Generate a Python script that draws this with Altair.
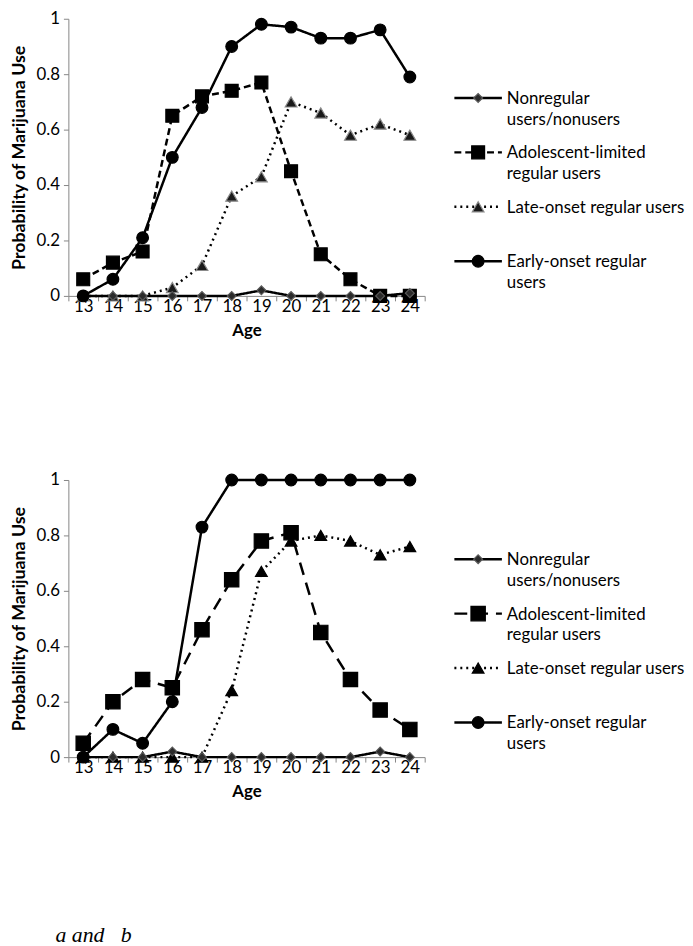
import altair as alt
import pandas as pd

ages = list(range(13, 25))
series_names = ["Nonregular users/nonusers", "Adolescent-limited regular users",
                "Late-onset regular users", "Early-onset regular users"]
legend_texts = ["Nonregular\nusers/nonusers", "Adolescent-limited\nregular users",
                "Late-onset regular users", "Early-onset regular\nusers"]

# Panel a
a_nonregular = [0, 0, 0, 0, 0, 0, 0.02, 0, 0, 0, 0, 0.01]
a_adolescent = [0.06, 0.12, 0.16, 0.65, 0.72, 0.74, 0.77, 0.45, 0.15, 0.06, 0.0, 0.0]
a_late = [0, 0, 0, 0.03, 0.11, 0.36, 0.43, 0.70, 0.66, 0.58, 0.62, 0.58]
a_early = [0, 0.06, 0.21, 0.50, 0.68, 0.90, 0.98, 0.97, 0.93, 0.93, 0.96, 0.79]

# Panel b
b_nonregular = [0, 0, 0, 0.02, 0, 0, 0, 0, 0, 0, 0.02, 0]
b_adolescent = [0.05, 0.20, 0.28, 0.25, 0.46, 0.64, 0.78, 0.81, 0.45, 0.28, 0.17, 0.10]
b_late = [0, 0, 0, 0, 0, 0.24, 0.67, 0.78, 0.80, 0.78, 0.73, 0.76]
b_early = [0, 0.10, 0.05, 0.20, 0.83, 1, 1, 1, 1, 1, 1, 1]

FONT = "Lato"


def make_df(vals):
    rows = []
    for name, v in zip(series_names, vals):
        for age, p in zip(ages, v):
            rows.append({"series": name, "age": age, "p": p})
    return pd.DataFrame(rows)


def styles(panel):
    dash_adol = [7, 4] if panel == "a" else [13, 8]
    tri_fill = "#1a1a1a" if panel == "a" else "black"
    tri_stroke = "#8a8a8a" if panel == "a" else "black"
    return {
        series_names[0]: dict(dash=[1, 0], shape="diamond", size=80, fill="#2b2b2b", stroke="#5a5a5a"),
        series_names[1]: dict(dash=dash_adol, shape="square", size=170 if panel == "a" else 210, fill="black", stroke="black"),
        series_names[2]: dict(dash=[2, 4], shape="triangle-up", size=140, fill=tri_fill, stroke=tri_stroke),
        series_names[3]: dict(dash=[1, 0], shape="circle", size=140, fill="black", stroke="black"),
    }


def panel(vals, panel_id):
    df = make_df(vals)
    st = styles(panel_id)
    x = alt.X("age:O", scale=alt.Scale(type="band", paddingInner=0, paddingOuter=0),
              axis=alt.Axis(title="Age", labelAngle=0, tickBand="extent", tickSize=5,
                            labelPadding=-2, titlePadding=8))
    y = alt.Y("p:Q", scale=alt.Scale(domain=[0, 1], nice=False),
              axis=alt.Axis(title="Probability of Marijuana Use", values=[0, 0.2, 0.4, 0.6, 0.8, 1],
                            format=".1~f", tickSize=5, labelPadding=4, titlePadding=8, grid=False,
                            titleFontSize=18))
    layers = []
    order = [series_names[2], series_names[1], series_names[0], series_names[3]]
    for name in order:
        s = st[name]
        base = alt.Chart(df).transform_filter(alt.datum.series == name)
        layers.append(base.mark_line(color="black", strokeWidth=2.5, strokeDash=s["dash"]).encode(x=x, y=y))
        layers.append(base.mark_point(shape=s["shape"], size=s["size"], filled=True, fill=s["fill"],
                                      stroke=s["stroke"], strokeWidth=1.2, opacity=1).encode(x=x, y=y))
    return alt.layer(*layers).properties(width=360, height=280)


def legend(panel_id):
    st = styles(panel_id)
    ldf = pd.DataFrame({"series": series_names, "label": legend_texts,
                        "slot": list(range(len(series_names)))})
    yenc = alt.Y("slot:Q", scale=alt.Scale(domain=[4.4545, -1.4545], nice=False, zero=False), axis=None)
    layers = []
    for name in series_names:
        s = st[name]
        base = alt.Chart(ldf).transform_filter(alt.datum.series == name)
        layers.append(base.mark_rule(color="black", strokeWidth=2.5, strokeDash=s["dash"]).encode(
            x=alt.value(29), x2=alt.value(77), y=yenc))
        layers.append(base.mark_point(shape=s["shape"], size=s["size"], filled=True, fill=s["fill"],
                                      stroke=s["stroke"], strokeWidth=1.2, opacity=1).encode(
            x=alt.value(53), y=yenc))
    layers.append(alt.Chart(ldf).mark_text(align="left", baseline="alphabetic", dy=6, lineBreak="\n",
                                            lineHeight=21, font=FONT, fontSize=17, color="black").encode(
        x=alt.value(82), y=yenc, text="label:N"))
    return alt.layer(*layers).properties(width=240, height=325)


row_a = alt.hconcat(panel([a_nonregular, a_adolescent, a_late, a_early], "a"), legend("a"), spacing=0)
row_b = alt.hconcat(panel([b_nonregular, b_adolescent, b_late, b_early], "b"), legend("b"), spacing=0)

note_df = pd.DataFrame({"note": ["a and\u00a0\u00a0 b"]})
note = alt.Chart(note_df).mark_text(align="left", baseline="middle", font="Liberation Serif",
                                    fontStyle="italic", fontSize=22, color="black").encode(
    x=alt.value(-13), y=alt.value(8), text="note:N").properties(width=200, height=16)

inner = alt.vconcat(row_a, row_b, spacing=132)
chart = alt.vconcat(inner, note, spacing=124).properties(
    padding={"left": 2, "top": -3, "right": 0, "bottom": 0}
).configure_view(stroke=None).configure_axis(
    domainColor="#868686", tickColor="#868686", labelColor="black", titleColor="black",
    labelFont=FONT, titleFont=FONT, labelFontSize=17, titleFontSize=17, titleFontWeight="bold",
    labelFontWeight="normal")

chart.save("out.html", embed_options={"renderer": "svg", "actions": False})
